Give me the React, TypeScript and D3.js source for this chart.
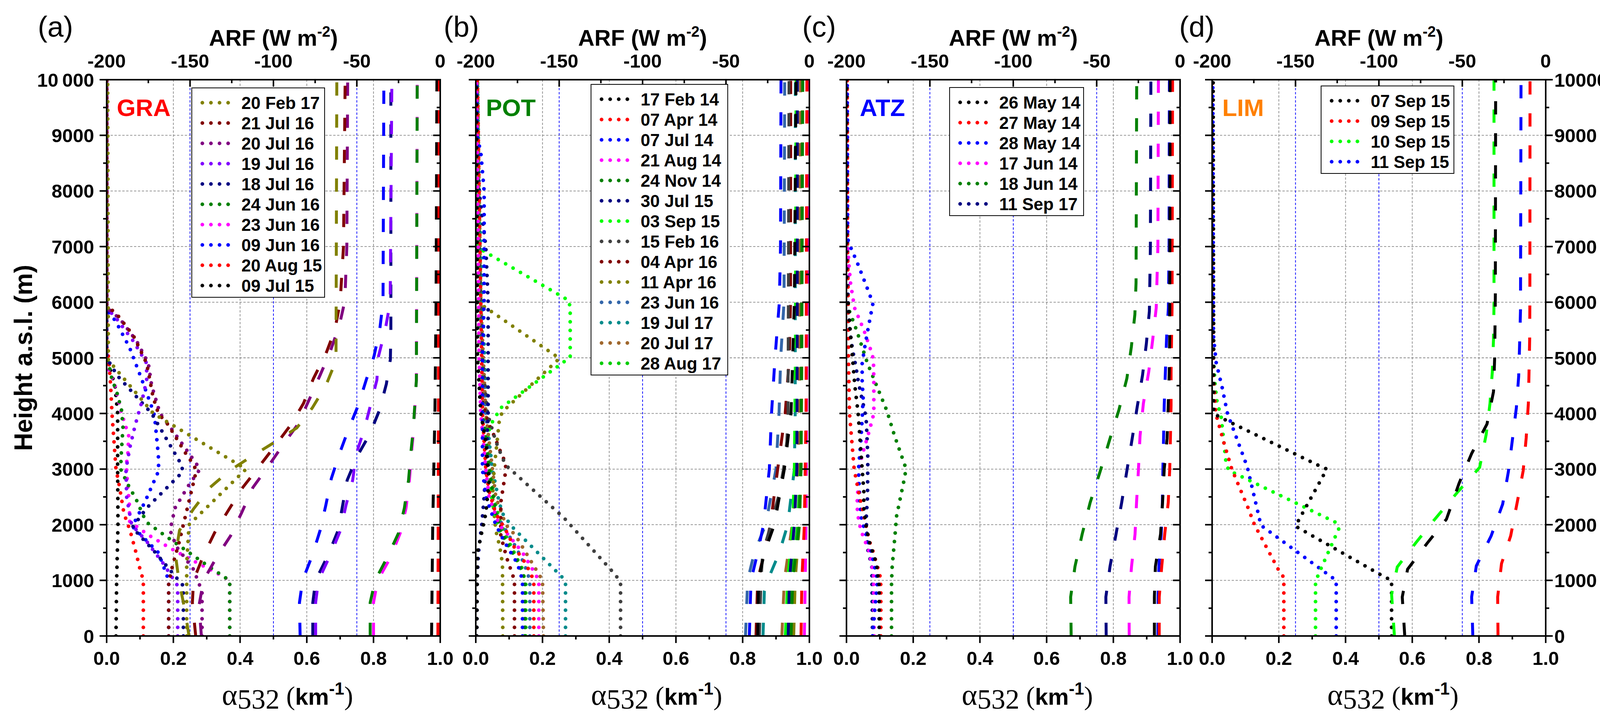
import React from 'react';
import * as d3 from 'd3';

type Pt = [number, number]; // [height (m), value]

const heightTicks = [0, 1000, 2000, 3000, 4000, 5000, 6000, 7000, 8000, 9000, 10000];
const alphaTicks = [0, 0.2, 0.4, 0.6, 0.8, 1.0];
const arfTicks = [-200, -150, -100, -50, 0];

// ---------- (a) GRA ----------
const graDates = ['20 Feb 17', '21 Jul 16', '20 Jul 16', '19 Jul 16', '18 Jul 16', '24 Jun 16', '23 Jun 16', '09 Jun 16', '20 Aug 15', '09 Jul 15'];
const graColors = ['#808000', '#800000', '#800080', '#8000FF', '#000080', '#008000', '#FF00FF', '#0000FF', '#FF0000', '#000000'];
const graAlpha: Pt[][] = [
  [[0, 0.24], [1300, 0.24], [2000, 0.247], [3000, 0.418], [3850, 0.181], [4000, 0.14], [4960, 0.005], [10000, 0.003]],
  [[0, 0.186], [950, 0.186], [1250, 0.197], [1700, 0.218], [2300, 0.242], [2900, 0.266], [3050, 0.264], [3300, 0.235], [3800, 0.184], [4000, 0.155], [4300, 0.139], [4900, 0.12], [5400, 0.08], [5750, 0.035], [5950, 0], [10000, 0]],
  [[0, 0.286], [800, 0.286], [1200, 0.26], [1600, 0.21], [1900, 0.19], [2300, 0.205], [2700, 0.245], [3000, 0.28], [3300, 0.245], [3800, 0.185], [4000, 0.16], [4500, 0.135], [4900, 0.125], [5300, 0.09], [5700, 0.04], [5900, 0], [10000, 0]],
  [[0, 0.213], [900, 0.213], [1300, 0.17], [1700, 0.12], [2000, 0.075], [2500, 0.06], [3000, 0.058], [3400, 0.07], [3800, 0.086], [4200, 0.105], [4600, 0.12], [4900, 0.12], [5300, 0.08], [5700, 0.03], [5900, 0], [10000, 0]],
  [[0, 0.23], [900, 0.23], [1500, 0.146], [1950, 0.077], [2300, 0.12], [2950, 0.228], [3070, 0.225], [4000, 0.135], [4680, 0.032], [5000, 0], [10000, 0]],
  [[0, 0.369], [990, 0.369], [1060, 0.353], [1230, 0.311], [1415, 0.267], [1770, 0.183], [2030, 0.123], [2160, 0.11], [2450, 0.089], [2720, 0.064], [3000, 0.042], [3290, 0.044], [3750, 0.049], [4050, 0.045], [4350, 0.032], [4640, 0.015], [4930, 0.005], [5000, 0], [10000, 0]],
  [[0, 0.369], [1000, 0.369], [1140, 0.328], [1350, 0.26], [1580, 0.19], [1740, 0.146], [1820, 0.124], [2060, 0.069], [2370, 0.068], [2780, 0.062], [3070, 0.059], [3300, 0.064], [3600, 0.066], [4000, 0.045], [4500, 0.025], [4900, 0], [10000, 0]],
  [[0, 0.186], [1000, 0.186], [1500, 0.155], [1970, 0.077], [2400, 0.114], [2970, 0.156], [3250, 0.155], [3870, 0.145], [4020, 0.141], [4600, 0.106], [5180, 0.069], [5580, 0.034], [5720, 0.02], [5850, 0], [10000, 0]],
  [[0, 0.11], [1000, 0.11], [1200, 0.1], [1500, 0.088], [1900, 0.07], [2200, 0.052], [2700, 0.038], [3000, 0.028], [3500, 0.022], [4000, 0.016], [4500, 0.012], [5000, 0.006], [5200, 0], [10000, 0]],
  [[0, 0.028], [1000, 0.03], [2000, 0.034], [3000, 0.033], [4000, 0.033], [4500, 0.025], [4900, 0.005], [5000, 0], [10000, 0]],
];
const graArf: Pt[][] = [
  [[0, -150.6], [500, -153.3], [1000, -156.7], [1450, -158.7], [1900, -156.3], [2280, -148], [2670, -138], [2970, -126.4], [3230, -113], [3480, -99.5], [3740, -86], [4100, -76.7], [4500, -68.6], [4950, -62.5], [10000, -62]],
  [[0, -146.6], [600, -148.6], [1000, -147.9], [1450, -141.9], [1860, -135.2], [2260, -127], [2670, -118.4], [3030, -109], [3400, -99.5], [3800, -89.5], [4180, -82], [4630, -76], [5070, -68.6], [5500, -63.2], [6000, -60], [7000, -58], [10000, -57]],
  [[0, -143.2], [550, -144.6], [1000, -141.9], [1430, -133.8], [1800, -125.7], [2220, -119], [2670, -112.3], [3030, -103.6], [3430, -94.4], [3820, -85], [4240, -78.7], [4690, -72], [5110, -66], [5580, -60.5], [6020, -57.2], [7000, -56], [10000, -55.5]],
  [[0, -74.7], [600, -74.7], [1000, -73], [1450, -66], [1900, -59.8], [2350, -56.5], [2800, -52.5], [3270, -50.4], [3720, -45.5], [4160, -41.7], [4600, -38], [5030, -37], [5500, -33], [6000, -30], [10000, -29]],
  [[0, -76.4], [600, -76.4], [1000, -74.7], [1450, -67.3], [1900, -61.2], [2350, -58.5], [2800, -55.8], [3230, -49.8], [3620, -42.4], [4060, -36.4], [4530, -32.3], [4970, -29.9], [5450, -29.6], [10000, -29.6]],
  [[0, -42], [600, -42], [1000, -39], [1400, -32], [1850, -25], [2300, -21.5], [2800, -19], [3300, -17.6], [3700, -16.2], [4600, -14.3], [10000, -13.8]],
  [[0, -40], [600, -40], [1000, -37.5], [1400, -30], [1850, -24], [2300, -20.5], [2800, -18.5], [3300, -17.2], [3700, -16], [4600, -14.3], [10000, -13.8]],
  [[0, -84], [600, -84.4], [1000, -82.5], [1450, -76.7], [1900, -72], [2350, -68.6], [2830, -65.3], [3270, -60.5], [3700, -55.2], [4150, -49.1], [4600, -44.4], [5030, -39.7], [5500, -36.3], [6000, -34.3], [10000, -33.8]],
  [[0, -1.4], [5000, -1.0], [10000, -0.5]],
  [[0, -5.2], [2000, -4.5], [4000, -3.2], [6000, -2.5], [10000, -2]],
];

// ---------- (b) POT ----------
const potDates = ['17 Feb 14', '07 Apr 14', '07 Jul 14', '21 Aug 14', '24 Nov 14', '30 Jul 15', '03 Sep 15', '15 Feb 16', '04 Apr 16', '11 Apr 16', '23 Jun 16', '19 Jul 17', '20 Jul 17', '28 Aug 17'];
const potColors = ['#000000', '#FF0000', '#0000FF', '#FF00FF', '#008000', '#000080', '#00FF00', '#404040', '#800000', '#808000', '#3366AA', '#008B8B', '#A0672D', '#00CC00'];
const potAlpha: Pt[][] = [
  [[0, 0.003], [1500, 0.005], [2200, 0.03], [2800, 0.04], [3500, 0.03], [4000, 0.015], [5000, 0.005], [10000, 0.002]],
  [[0, 0.174], [1000, 0.174], [1300, 0.15], [1600, 0.115], [1900, 0.09], [2200, 0.06], [2600, 0.04], [3000, 0.03], [4000, 0.02], [6000, 0.015], [8000, 0.01], [10000, 0.005]],
  [[0, 0.14], [1000, 0.14], [1300, 0.125], [1700, 0.085], [2000, 0.06], [2500, 0.03], [3000, 0.02], [5000, 0.02], [6000, 0.025], [8000, 0.025], [8700, 0.015], [9000, 0.003], [10000, 0.002]],
  [[0, 0.189], [1000, 0.189], [1200, 0.17], [1500, 0.14], [1800, 0.1], [2000, 0.07], [2500, 0.04], [3000, 0.03], [4000, 0.015], [5000, 0.01], [10000, 0.003]],
  [[0, 0.148], [1000, 0.148], [1300, 0.13], [1600, 0.1], [1900, 0.075], [2200, 0.06], [2600, 0.05], [3000, 0.04], [4000, 0.02], [5000, 0.01], [10000, 0.003]],
  [[0, 0.003], [1000, 0.004], [1500, 0.008], [2000, 0.018], [2500, 0.025], [3000, 0.03], [4000, 0.037], [6000, 0.037], [7000, 0.03], [7500, 0.02], [8000, 0.01], [9000, 0.003], [10000, 0.002]],
  [[0, 0.15], [1000, 0.15], [1200, 0.135], [1400, 0.12], [1600, 0.1], [1900, 0.07], [2200, 0.055], [2600, 0.045], [3000, 0.035], [3500, 0.03], [3800, 0.045], [4100, 0.075], [5010, 0.283], [5890, 0.283], [6030, 0.279], [6960, 0.012], [7050, 0], [10000, 0]],
  [[0, 0.434], [950, 0.434], [1090, 0.42], [2120, 0.265], [3070, 0.09], [3200, 0.08], [3500, 0.06], [4000, 0.035], [5000, 0.02], [6000, 0.015], [7000, 0.01], [8000, 0.005], [10000, 0.003]],
  [[0, 0.116], [1000, 0.116], [1400, 0.093], [1800, 0.075], [2400, 0.075], [2900, 0.088], [3100, 0.09], [3300, 0.075], [3600, 0.055], [3800, 0.04], [4200, 0.02], [5000, 0.01], [10000, 0.003]],
  [[0, 0.081], [1300, 0.08], [1600, 0.072], [1900, 0.06], [2500, 0.05], [3000, 0.055], [3500, 0.064], [3900, 0.071], [4030, 0.08], [4990, 0.251], [5930, 0.023], [6000, 0.005], [10000, 0.003]],
  [[0, 0.162], [1000, 0.162], [1300, 0.145], [1600, 0.12], [1900, 0.09], [2200, 0.06], [2600, 0.045], [3000, 0.04], [4000, 0.03], [5000, 0.02], [6000, 0.01], [10000, 0.003]],
  [[0, 0.269], [950, 0.269], [1050, 0.26], [1930, 0.114], [2170, 0.083], [2400, 0.07], [3000, 0.05], [3500, 0.04], [4500, 0.03], [6000, 0.02], [8000, 0.01], [10000, 0.005]],
  [[0, 0.203], [1000, 0.2], [1100, 0.19], [1500, 0.15], [1800, 0.12], [2000, 0.09], [2500, 0.06], [3000, 0.05], [4000, 0.03], [6000, 0.015], [10000, 0.005]],
  [[0, 0.146], [1000, 0.146], [1200, 0.14], [1500, 0.115], [1800, 0.09], [2100, 0.07], [2500, 0.055], [3000, 0.045], [4000, 0.03], [5000, 0.02], [7000, 0.01], [10000, 0.005]],
];
const potArf: Pt[][] = [
  [[0, -31], [1000, -30.5], [1500, -27], [2000, -21], [3000, -15], [4000, -11], [6000, -9], [10000, -8]],
  [[0, -5], [1000, -4.5], [2000, -3], [4000, -2], [10000, -1.5]],
  [[0, -36], [1000, -35], [1500, -31], [2000, -27.5], [3000, -24], [4000, -22.7], [5000, -20.6], [6000, -18], [7000, -17.3], [10000, -17]],
  [[0, -3], [2000, -2], [10000, -0.8]],
  [[0, -11], [1000, -10], [2000, -6], [3000, -5], [10000, -4]],
  [[0, -12.7], [1000, -12], [2000, -9], [3000, -7.5], [6000, -7.3], [10000, -7.2]],
  [[0, -14.4], [1000, -13], [2000, -10], [3000, -9], [5000, -8.4], [10000, -8]],
  [[0, -30], [1000, -29], [1500, -28], [2000, -23], [2500, -18.6], [3000, -15.5], [3500, -13.5], [4000, -12.8], [10000, -12.2]],
  [[0, -32], [1000, -31], [1500, -27], [2000, -23.4], [3000, -19], [4000, -14.5], [5000, -12], [6000, -11.3], [10000, -11.2]],
  [[0, -9.4], [1000, -8.5], [2000, -6], [3000, -5], [5000, -4.5], [10000, -4]],
  [[0, -38.3], [1000, -37], [1500, -33], [2000, -26.2], [3000, -20], [4000, -18.2], [5000, -17.2], [6000, -15.2], [10000, -14.8]],
  [[0, -27.8], [800, -27], [1000, -25], [1500, -18], [2000, -13], [3000, -9], [4000, -8.5], [10000, -8.4]],
  [[0, -16.5], [1000, -15], [2000, -10.3], [3000, -7], [4000, -6], [10000, -5.3]],
  [[0, -11.5], [1000, -10.5], [2000, -7], [3000, -5.5], [10000, -4.2]],
];

// ---------- (c) ATZ ----------
const atzDates = ['26 May 14', '27 May 14', '28 May 14', '17 Jun 14', '18 Jun 14', '11 Sep 17'];
const atzColors = ['#000000', '#FF0000', '#0000FF', '#FF00FF', '#008000', '#000080'];
const atzAlpha: Pt[][] = [
  [[0, 0.098], [900, 0.098], [1300, 0.09], [1700, 0.068], [2000, 0.058], [2300, 0.052], [2600, 0.052], [3000, 0.047], [3500, 0.041], [4000, 0.035], [4500, 0.025], [5000, 0.018], [5500, 0.011], [6000, 0.005], [6200, 0], [10000, 0]],
  [[0, 0.103], [900, 0.103], [1100, 0.1], [1550, 0.078], [1700, 0.069], [2300, 0.047], [2600, 0.036], [3000, 0.023], [3500, 0.016], [4000, 0.009], [5000, 0.006], [6000, 0.005], [7000, 0.003], [10000, 0.002]],
  [[0, 0.078], [1000, 0.093], [1200, 0.086], [1500, 0.075], [1800, 0.06], [2100, 0.045], [2400, 0.04], [3000, 0.036], [3500, 0.043], [3900, 0.047], [4300, 0.05], [4550, 0.047], [4900, 0.047], [5200, 0.055], [5500, 0.064], [5970, 0.079], [6130, 0.07], [6410, 0.052], [6700, 0.033], [6980, 0.013], [7150, 0.003], [10000, 0.002]],
  [[0, 0.083], [1100, 0.081], [1500, 0.069], [1900, 0.043], [2200, 0.033], [2400, 0.032], [2800, 0.036], [3000, 0.037], [3250, 0.047], [3700, 0.069], [4000, 0.082], [4600, 0.082], [4900, 0.081], [5050, 0.078], [5500, 0.052], [5900, 0.024], [6200, 0.016], [6350, 0.012], [6700, 0.007], [7000, 0.004], [10000, 0.002]],
  [[0, 0.135], [950, 0.135], [1250, 0.137], [1850, 0.146], [2150, 0.15], [2900, 0.176], [3050, 0.176], [3600, 0.144], [4050, 0.121], [4900, 0.063], [5500, 0.03], [5900, 0.005], [6000, 0], [10000, 0]],
  [[0, 0.078], [1250, 0.076], [1550, 0.064], [2100, 0.059], [2500, 0.063], [3200, 0.064], [3800, 0.06], [3950, 0.058], [4250, 0.047], [4550, 0.036], [4850, 0.028], [5150, 0.018], [5500, 0.01], [6000, 0.005], [7000, 0.003], [10000, 0.002]],
];
const atzArf: Pt[][] = [
  [[0, -15.4], [700, -15.4], [1250, -14.8], [1830, -11.7], [2400, -10.5], [3000, -9.5], [3550, -7.8], [4150, -7.1], [4750, -6.5], [5400, -6.2], [10000, -6]],
  [[0, -12.5], [700, -12.5], [1250, -11], [1830, -9.2], [2400, -7.1], [3000, -6.2], [3550, -5.8], [4150, -5.4], [4750, -5.4], [5350, -5.1], [5900, -4.8], [10000, -4.5]],
  [[0, -13.3], [700, -13.2], [1250, -12.7], [1830, -11.3], [2400, -10.6], [3000, -10.3], [3550, -9.9], [4150, -9.5], [4750, -8.8], [5350, -8.1], [5900, -7], [7000, -6.6], [10000, -6.4]],
  [[0, -30.5], [700, -30.6], [1250, -29.1], [1830, -27], [2400, -26.1], [2970, -25], [3600, -24], [4180, -22], [4750, -18.8], [5330, -16.4], [5900, -14.3], [7000, -13.3], [10000, -13]],
  [[0, -65.3], [700, -65.6], [1250, -63], [1830, -58.7], [2400, -53.9], [2950, -48], [3530, -42.2], [4060, -36.7], [4630, -31.9], [5200, -29.2], [5780, -27.1], [6350, -26.4], [10000, -26]],
  [[0, -44.3], [700, -44.5], [1250, -42], [1830, -38.4], [2400, -35], [2970, -31.9], [3550, -28.7], [4120, -25.7], [4690, -22.5], [5260, -20.2], [5840, -18.4], [7000, -17.8], [10000, -17.5]],
];

// ---------- (d) LIM ----------
const limDates = ['07 Sep 15', '09 Sep 15', '10 Sep 15', '11 Sep 15'];
const limColors = ['#000000', '#FF0000', '#00FF00', '#0000FF'];
const limAlpha: Pt[][] = [
  [[0, 0.538], [1000, 0.538], [1060, 0.517], [1970, 0.251], [2000, 0.252], [3000, 0.344], [3060, 0.321], [3930, 0.024], [4000, 0.005], [10000, 0.003]],
  [[0, 0.215], [1050, 0.215], [1200, 0.198], [2000, 0.127], [2300, 0.108], [3000, 0.059], [3500, 0.034], [4000, 0.011], [4300, 0.008], [4700, 0.004], [10000, 0.002]],
  [[0, 0.31], [950, 0.31], [1100, 0.318], [1930, 0.38], [2035, 0.373], [2976, 0.05], [3100, 0.042], [3500, 0.035], [4000, 0.026], [4150, 0.016], [4500, 0.009], [5000, 0.004], [10000, 0.002]],
  [[0, 0.372], [1000, 0.372], [1085, 0.352], [1990, 0.146], [2130, 0.141], [3000, 0.107], [3160, 0.098], [4000, 0.046], [4470, 0.03], [4920, 0.012], [5400, 0.004], [10000, 0.002]],
];
const limArf: Pt[][] = [
  [[0, -84.5], [700, -86], [1200, -82.8], [1670, -71], [2100, -59.5], [2740, -52], [3280, -44.4], [3810, -35.2], [4390, -31.3], [5000, -30.6], [6100, -30.2], [10000, -30]],
  [[0, -28.6], [700, -28.8], [1300, -26.5], [1800, -21], [2430, -16.9], [2970, -13.5], [3560, -11.7], [4180, -10.4], [4750, -10], [5350, -9.6], [6000, -9.5], [10000, -9.4]],
  [[0, -90.7], [750, -92.4], [1240, -89], [1670, -78], [2080, -67], [2580, -53], [3030, -39.6], [3620, -35.7], [4180, -33.4], [4750, -32], [5330, -31.3], [5950, -31], [10000, -31]],
  [[0, -43.7], [700, -44.4], [1260, -41.6], [1800, -32.7], [2370, -25.8], [2950, -22.4], [3520, -20], [4100, -17.6], [4670, -16.2], [5290, -15.6], [5870, -15.1], [10000, -14.8]],
];

// ---------- layout ----------
const W = 4205;
const H = 1861;
const plotTop = 204;
const plotBottom = 1628;
const plotW = 854;
const FONT = 'Liberation Sans, Arial, sans-serif';
const SERIF = 'Liberation Serif, Times New Roman, serif';

const panels = [
  { key: 'a', tag: '(a)', tagX: 142, site: 'GRA', siteColor: '#FF0000', left: 273, legX: 491, legY: 225, legW: 340, dates: graDates, colors: graColors, alpha: graAlpha, arf: graArf },
  { key: 'b', tag: '(b)', tagX: 1181, site: 'POT', siteColor: '#008000', left: 1218, legX: 1513, legY: 216, legW: 350, dates: potDates, colors: potColors, alpha: potAlpha, arf: potArf },
  { key: 'c', tag: '(c)', tagX: 2097, site: 'ATZ', siteColor: '#0000FF', left: 2167, legX: 2431, legY: 224, legW: 343, dates: atzDates, colors: atzColors, alpha: atzAlpha, arf: atzArf },
  { key: 'd', tag: '(d)', tagX: 3064, site: 'LIM', siteColor: '#FF8000', left: 3103, legX: 3382, legY: 220, legW: 340, dates: limDates, colors: limColors, alpha: limAlpha, arf: limArf },
];

const y = d3.scaleLinear().domain([0, 10000]).range([plotBottom, plotTop]);

function Panel({ p, idx }: { p: (typeof panels)[number]; idx: number }) {
  const L = p.left;
  const R = L + plotW;
  const xA = d3.scaleLinear().domain([0, 1]).range([L, R]);
  const xR = d3.scaleLinear().domain([-200, 0]).range([L, R]);
  const alphaLine = d3.line<Pt>().x((d) => xA(d[1])).y((d) => y(d[0]));
  const arfLine = d3.line<Pt>().x((d) => xR(d[1])).y((d) => y(d[0]));
  const cx = (L + R) / 2;
  const clipId = `clip-${p.key}`;
  const isFirst = idx === 0;
  const isLast = idx === panels.length - 1;
  const yMinor = d3.range(500, 10000, 1000);
  const aMinor = d3.range(0.1, 1, 0.2);
  const rMinor = [-175, -125, -75, -25];
  const rows = p.dates.length;
  const legH = 38 + (rows - 1) * 52 + 30;
  // later legend entries are drawn first, so the first entries sit on top
  const order = d3.range(rows).reverse();

  return (
    <g>
      <defs>
        <clipPath id={clipId}>
          <rect x={L} y={plotTop} width={plotW} height={plotBottom - plotTop} />
        </clipPath>
      </defs>

      {/* grid */}
      <g stroke="#8c8c8c" strokeWidth={1.8} strokeDasharray="6 4">
        {alphaTicks.slice(1, -1).map((t) => (
          <line key={`ga${t}`} x1={xA(t)} x2={xA(t)} y1={plotTop} y2={plotBottom} />
        ))}
        {heightTicks.slice(1, -1).map((t) => (
          <line key={`gh${t}`} x1={L} x2={R} y1={y(t)} y2={y(t)} />
        ))}
      </g>
      <g stroke="#0000FF" strokeWidth={1.8} strokeDasharray="6 4.5">
        {arfTicks.slice(1, -1).map((t) => (
          <line key={`gr${t}`} x1={xR(t)} x2={xR(t)} y1={plotTop} y2={plotBottom} />
        ))}
      </g>

      {/* data */}
      <g clipPath={`url(#${clipId})`} fill="none">
        {order.map((i) => (
          <path key={`al${i}`} d={alphaLine(p.alpha[i]) || ''} stroke={p.colors[i]} strokeWidth={9.5} strokeDasharray="0 22" strokeLinecap="round" />
        ))}
        {order.map((i) => (
          <path key={`ar${i}`} d={arfLine(p.arf[i]) || ''} stroke={p.colors[i]} strokeWidth={7.5} strokeDasharray="34 48" />
        ))}
      </g>

      {/* frame */}
      <rect x={L} y={plotTop} width={plotW} height={plotBottom - plotTop} fill="none" stroke="#000" strokeWidth={4} />

      {/* ticks */}
      <g stroke="#000" strokeWidth={4}>
        {heightTicks.map((t) => (
          <g key={`yt${t}`}>
            <line x1={L - 18} x2={L} y1={y(t)} y2={y(t)} />
            {isLast ? <line x1={R} x2={R + 18} y1={y(t)} y2={y(t)} /> : <line x1={R - 18} x2={R} y1={y(t)} y2={y(t)} />}
          </g>
        ))}
        {yMinor.map((t) => (
          <g key={`ym${t}`}>
            <line x1={L - 9} x2={L} y1={y(t)} y2={y(t)} />
            {isLast ? <line x1={R} x2={R + 9} y1={y(t)} y2={y(t)} /> : <line x1={R - 9} x2={R} y1={y(t)} y2={y(t)} />}
          </g>
        ))}
        {alphaTicks.map((t) => (
          <line key={`xt${t}`} x1={xA(t)} x2={xA(t)} y1={plotBottom} y2={plotBottom + 18} />
        ))}
        {aMinor.map((t) => (
          <line key={`xm${t}`} x1={xA(t)} x2={xA(t)} y1={plotBottom} y2={plotBottom + 9} />
        ))}
        {arfTicks.map((t) => (
          <line key={`rt${t}`} x1={xR(t)} x2={xR(t)} y1={plotTop} y2={plotTop + 18} />
        ))}
        {rMinor.map((t) => (
          <line key={`rm${t}`} x1={xR(t)} x2={xR(t)} y1={plotTop} y2={plotTop + 9} />
        ))}
      </g>

      {/* tick labels */}
      <g fontFamily={FONT} fontWeight="bold" fontSize={49} fill="#000">
        {alphaTicks.map((t) => (
          <text key={`xl${t}`} x={xA(t)} y={1702} textAnchor="middle">{d3.format('.1f')(t)}</text>
        ))}
        {arfTicks.map((t) => (
          <text key={`rl${t}`} x={xR(t)} y={173} textAnchor="middle">{String(t)}</text>
        ))}
        {isFirst && heightTicks.map((t) => (
          <text key={`yl${t}`} x={241} y={y(t)} dy="0.36em" textAnchor="end">{t === 10000 ? '10\u2009000' : String(t)}</text>
        ))}
        {isLast && heightTicks.map((t) => (
          <text key={`yr${t}`} x={R + 22} y={y(t)} dy="0.36em" textAnchor="start">{String(t)}</text>
        ))}
      </g>

      {/* titles */}
      <text x={p.tagX} y={94} textAnchor="middle" fontFamily={FONT} fontSize={74}>{p.tag}</text>
      <text x={cx} y={117} textAnchor="middle" fontFamily={FONT} fontWeight="bold" fontSize={58}>
        ARF (W m<tspan dy={-23} fontSize={38}>-2</tspan><tspan dy={23}>)</tspan>
      </text>
      <text x={cx + 36} y={1804} textAnchor="middle">
        <tspan fontFamily={SERIF} fontSize={76}>α</tspan>
        <tspan fontFamily={SERIF} fontSize={72} dy={10}>532</tspan>
        <tspan fontFamily={SERIF} fontSize={68} dy={-10}> (</tspan>
        <tspan fontFamily={FONT} fontWeight="bold" fontSize={60}>km</tspan>
        <tspan fontFamily={FONT} fontWeight="bold" fontSize={44} dy={-26}>-1</tspan>
        <tspan fontFamily={SERIF} fontSize={68} dy={26}>)</tspan>
      </text>

      {/* site label */}
      <text x={L + (idx === 2 ? 34 : 26)} y={297} fontFamily={FONT} fontWeight="bold" fontSize={62} fill={p.siteColor}>{p.site}</text>

      {/* legend */}
      <g>
        <rect x={p.legX} y={p.legY} width={p.legW} height={legH} fill="#fff" stroke="#000" strokeWidth={2} />
        {p.dates.map((d, i) => {
          const ry = p.legY + 38 + i * 52;
          return (
            <g key={`lg${i}`}>
              <line x1={p.legX + 27} x2={p.legX + 115} y1={ry} y2={ry} stroke={p.colors[i]} strokeWidth={9.5} strokeDasharray="0 22" strokeLinecap="round" />
              <text x={p.legX + 127} y={ry} dy="0.36em" fontFamily={FONT} fontWeight="bold" fontSize={44} fill="#000">{d}</text>
            </g>
          );
        })}
      </g>
    </g>
  );
}

export default function App() {
  const midY = (plotTop + plotBottom) / 2;
  return (
    <svg width={W} height={H} viewBox={`0 0 ${W} ${H}`} style={{ position: 'absolute', left: 0, top: 0, background: '#fff' }}>
      <rect x={0} y={0} width={W} height={H} fill="#fff" />
      {panels.map((p, i) => (
        <Panel key={p.key} p={p} idx={i} />
      ))}
      <text transform={`translate(82, ${midY}) rotate(-90)`} textAnchor="middle" fontFamily={FONT} fontWeight="bold" fontSize={64}>Height a.s.l. (m)</text>
      <text transform={`translate(4124, ${midY}) rotate(90)`} textAnchor="middle" fontFamily={FONT} fontWeight="bold" fontSize={64}>Height a.s.l. (m)</text>
    </svg>
  );
}
